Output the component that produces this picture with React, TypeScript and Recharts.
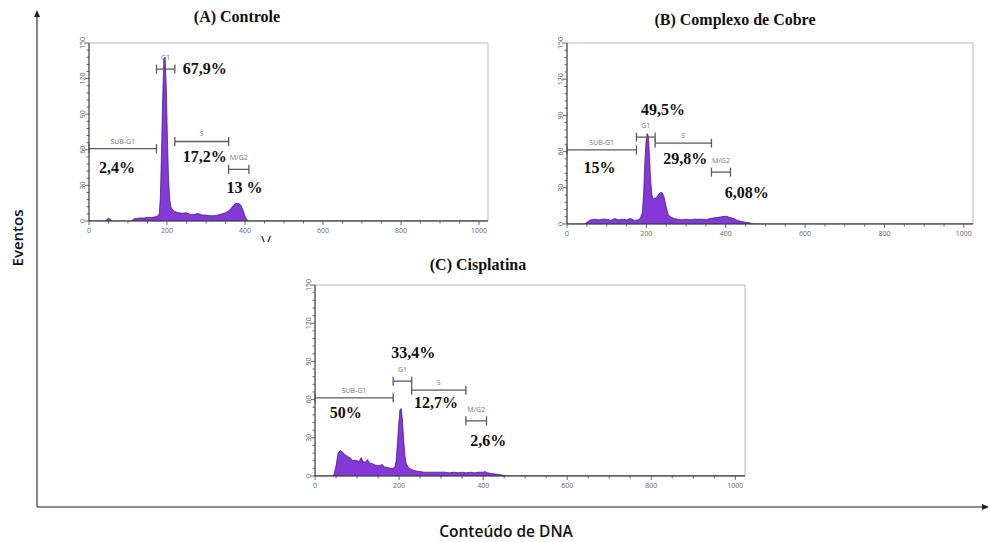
import React from "react";
import { AreaChart, Area, XAxis, YAxis, ReferenceLine, ReferenceDot, ReferenceArea } from "recharts";

// ---------- data ----------
const xTicks = [0, 50, 100, 150, 200, 250, 300, 350, 400, 450, 500, 550, 600, 650, 700, 750, 800, 850, 900, 950, 1000];
const yTicks = [0, 6, 12, 18, 24, 30, 36, 42, 48, 54, 60, 66, 72, 78, 84, 90, 96, 102, 108, 114, 120, 126, 132, 138, 144, 150];

// (A) Controle
const aChannels = [0, 40, 45, 50, 55, 60, 100, 110, 115, 120, 130, 140, 150, 160, 170, 175, 180, 183, 186, 189, 192, 195, 198, 201, 204, 207, 210, 215, 220, 230, 240, 250, 260, 270, 280, 290, 300, 310, 320, 330, 340, 350, 360, 365, 370, 375, 380, 385, 390, 395, 400, 405, 410, 1023];
const aCounts = [0, 0, 1, 2.5, 1, 0, 0, 0, 2, 2, 2.5, 2.5, 3, 3, 3.5, 4, 6, 20, 60, 105, 137, 138, 115, 70, 35, 18, 12, 9, 8, 7, 6.5, 7, 5.5, 5.5, 6.5, 5, 5, 4.5, 4.5, 5, 6, 7, 9, 11, 13, 14.5, 15, 14.5, 13, 9, 4, 1, 0, 0];

// (B) Complexo de Cobre
const bChannels = [0, 40, 45, 50, 60, 70, 80, 90, 100, 110, 120, 130, 140, 150, 160, 170, 180, 185, 190, 193, 196, 199, 202, 205, 208, 211, 214, 217, 220, 225, 230, 235, 240, 245, 250, 255, 260, 270, 280, 290, 300, 310, 320, 330, 340, 350, 360, 370, 380, 390, 400, 410, 420, 430, 440, 450, 460, 465, 470, 1023];
const bCounts = [0, 0, 0, 1.5, 3.5, 4, 3.5, 4, 4, 3, 4.5, 3.5, 4, 3.5, 4.5, 3, 3.5, 5, 10, 25, 50, 68, 75, 73, 55, 35, 24, 21, 21, 22, 24, 26, 26, 22, 14, 8, 6, 4.5, 4, 3.5, 4, 3.5, 4, 4, 4, 3.5, 4.5, 5, 5.5, 6, 6.5, 5.5, 4.5, 3, 2, 1.5, 1, 0.5, 0, 0];

// (C) Cisplatina
const cChannels = [0, 40, 45, 50, 55, 60, 65, 70, 75, 80, 85, 90, 95, 100, 105, 110, 115, 120, 125, 130, 135, 140, 145, 150, 155, 160, 165, 170, 175, 180, 185, 190, 193, 196, 199, 202, 205, 208, 211, 214, 217, 220, 225, 230, 240, 250, 260, 270, 280, 290, 300, 310, 320, 330, 340, 350, 360, 370, 380, 390, 400, 405, 410, 420, 430, 440, 450, 455, 1023];
const cCounts = [0, 0, 1, 8, 18, 20, 19, 17, 16, 15, 14, 12, 12.5, 12, 11.5, 14.5, 11, 11, 13, 10, 10, 9, 8.5, 8, 8.5, 9, 7, 7, 6.5, 6, 6, 7, 12, 25, 40, 52, 53, 44, 28, 16, 10, 8, 6, 5, 4, 3.5, 3, 3, 3, 3, 3, 3, 2.5, 3, 2.5, 3, 2.5, 3, 2.5, 3, 3, 3.5, 2.5, 2, 1.5, 1, 0.5, 0, 0];

// gates: name, start, end, level
const gateNames = ["SUB-G1", "G1", "S", "M/G2"];
const aGateStart = [0, 173, 220, 358];
const aGateEnd = [173, 220, 358, 410];
const aGateLevel = [61, 128, 67, 43.5];
const bGateStart = [0, 175, 222, 364];
const bGateEnd = [175, 222, 364, 412];
const bGateLevel = [61.4, 72, 67, 43];
const cGateStart = [0, 186, 230, 359];
const cGateEnd = [186, 230, 359, 408];
const cGateLevel = [61.4, 74.5, 67.4, 43.3];

// percentages (order SUB-G1, G1, S, M/G2) and their anchor points
const aPercents = ["2,4%", "67,9%", "17,2%", "13 %"];
const aPctX = [72, 297, 297, 399];
const aPctY = [45.7, 129, 54.8, 28.6];
const bPercents = ["15%", "49,5%", "29,8%", "6,08%"];
const bPctX = [82, 242, 298, 453];
const bPctY = [47.6, 95.4, 55, 26.3];
const cPercents = ["50%", "33,4%", "12,7%", "2,6%"];
const cPctX = [73, 234, 288, 412];
const cPctY = [50.4, 97.6, 58.2, 28];

const titles = ["(A) Controle", "(B) Complexo de Cobre", "(C) Cisplatina"];

// ---------- styles ----------
const FILL = "#8438D8";
const EDGE = "#3a1370";
const GATE = "#5a5a5a";
const SERIF = "'Liberation Serif', 'Times New Roman', serif";
const SANS = "'Open Sans', 'Noto Sans', sans-serif";

const XTick = (props: any) => {
  const { x, y, payload } = props;
  const major = payload.value % 200 === 0;
  return (
    <g>
      <line x1={x} x2={x} y1={y} y2={y + (major ? 4 : 2.5)} stroke="#444" strokeWidth={0.8} />
      {major && (
        <text x={x} y={y + 12} textAnchor="middle" fontSize={7} fill="#666" fontFamily={SANS}>
          {payload.value}
        </text>
      )}
    </g>
  );
};

const YTick = (props: any) => {
  const { x, y, payload } = props;
  const major = payload.value % 30 === 0;
  return (
    <g>
      <line x1={x} x2={x - (major ? 4 : 2.5)} y1={y} y2={y} stroke="#444" strokeWidth={0.8} />
      {major && (
        <text transform={`translate(${x - 4},${y}) rotate(-90)`} textAnchor="middle" fontSize={7} fill="#666" fontFamily={SANS}>
          {payload.value}
        </text>
      )}
    </g>
  );
};

type PanelProps = {
  left: number; top: number; w: number; h: number;
  channels: number[]; counts: number[];
  gStart: number[]; gEnd: number[]; gLevel: number[];
  pcts: string[]; pctX: number[]; pctY: number[];
};

const Panel = (p: PanelProps) => {
  const yw = 30, mt = 10, mr = 12, xh = 22;
  const W = p.w + yw + mr;
  const H = p.h + mt + xh;
  const data = p.channels.map((c, i) => ({ x: c, y: p.counts[i] }));
  return (
    <div style={{ position: "absolute", left: p.left - yw, top: p.top - mt }}>
      <AreaChart width={W} height={H} data={data} margin={{ top: mt, right: mr, bottom: 0, left: 0 }}>
        <ReferenceArea x1={0} x2={1023} y1={0} y2={150} fill="none" stroke="#b8b8b8" strokeWidth={1} ifOverflow="visible" />
        <XAxis dataKey="x" type="number" domain={[0, 1023]} ticks={xTicks} interval={0} height={xh}
          tick={<XTick />} tickLine={false} tickSize={0} tickMargin={0} axisLine={{ stroke: "#333", strokeWidth: 1.2 }} allowDataOverflow />
        <YAxis type="number" domain={[0, 150]} ticks={yTicks} interval={0} width={yw}
          tick={<YTick />} tickLine={false} tickSize={0} tickMargin={0} axisLine={{ stroke: "#333", strokeWidth: 1 }} allowDataOverflow />
        <Area dataKey="y" type="linear" fill={FILL} fillOpacity={1} stroke={EDGE} strokeWidth={0.7}
          isAnimationActive={false} dot={false} activeDot={false} />
        {gateNames.map((n, i) => (
          <ReferenceLine key={"gl" + i} segment={[{ x: p.gStart[i], y: p.gLevel[i] }, { x: p.gEnd[i], y: p.gLevel[i] }]}
            stroke={GATE} strokeWidth={1.3} ifOverflow="visible" />
        ))}
        {gateNames.map((n, i) => (
          <ReferenceDot key={"gs" + i} x={p.gStart[i]} y={p.gLevel[i]} ifOverflow="visible"
            shape={(s: any) => <line x1={s.cx} x2={s.cx} y1={s.cy - 4.5} y2={s.cy + 4.5} stroke={GATE} strokeWidth={1.3} />} />
        ))}
        {gateNames.map((n, i) => (
          <ReferenceDot key={"ge" + i} x={p.gEnd[i]} y={p.gLevel[i]} ifOverflow="visible"
            shape={(s: any) => <line x1={s.cx} x2={s.cx} y1={s.cy - 4.5} y2={s.cy + 4.5} stroke={GATE} strokeWidth={1.3} />} />
        ))}
        {gateNames.map((n, i) => (
          <ReferenceDot key={"gn" + i} x={(p.gStart[i] + p.gEnd[i]) / 2} y={p.gLevel[i]} ifOverflow="visible"
            shape={(s: any) => (
              <text x={s.cx} y={s.cy - (n === "G1" || n === "M/G2" ? 9 : 5)} textAnchor="middle" fontSize={7} fill="#777" fontFamily={SANS}>
                {n}
              </text>
            )} />
        ))}
        {p.pcts.map((t, i) => (
          <ReferenceDot key={"pc" + i} x={p.pctX[i]} y={p.pctY[i]} ifOverflow="visible"
            shape={(s: any) => (
              <text x={s.cx} y={s.cy + 6} textAnchor="middle" fontSize={16} fontWeight="bold" fill="#111" fontFamily={SERIF}>
                {t}
              </text>
            )} />
        ))}
      </AreaChart>
    </div>
  );
}

export default function App() {
  return (
    <div style={{ position: "absolute", left: 0, top: 0, width: 988, height: 542, background: "#fff", overflow: "hidden" }}>
      <svg width={988} height={542} style={{ position: "absolute", left: 0, top: 0 }}>
        <line x1={37} y1={16} x2={37} y2={507} stroke="#666" strokeWidth={1.6} />
        <polygon points="37,10 34,17 40,17" fill="#222" />
        <line x1={37} y1={507} x2={982} y2={507} stroke="#666" strokeWidth={1.6} />
        <polygon points="989,507 982,504 982,510" fill="#222" />
        <text transform="translate(23,238) rotate(-90)" textAnchor="middle" fontSize={15} fontWeight={600} fill="#111" fontFamily={SANS}>
          Eventos
        </text>
        <text x={506} y={537} textAnchor="middle" fontSize={15.5} fontWeight={600} fill="#111" fontFamily={SANS}>
          Conteúdo de DNA
        </text>
        <text x={237} y={22} textAnchor="middle" fontSize={16} fontWeight="bold" fill="#111" fontFamily={SERIF}>
          {titles[0]}
        </text>
        <text x={735} y={25} textAnchor="middle" fontSize={16} fontWeight="bold" fill="#111" fontFamily={SERIF}>
          {titles[1]}
        </text>
        <text x={478} y={270} textAnchor="middle" fontSize={16} fontWeight="bold" fill="#111" fontFamily={SERIF}>
          {titles[2]}
        </text>
        <text x={266} y={242} textAnchor="middle" fontSize={9} fontWeight="bold" fill="#222" fontFamily={SANS}>
          {"\\ /"}
        </text>
      </svg>
      <Panel left={89} top={43} w={399} h={178} channels={aChannels} counts={aCounts}
        gStart={aGateStart} gEnd={aGateEnd} gLevel={aGateLevel} pcts={aPercents} pctX={aPctX} pctY={aPctY} />
      <Panel left={567} top={43} w={406} h={181} channels={bChannels} counts={bCounts}
        gStart={bGateStart} gEnd={bGateEnd} gLevel={bGateLevel} pcts={bPercents} pctX={bPctX} pctY={bPctY} />
      <Panel left={315} top={285} w={430} h={191} channels={cChannels} counts={cCounts}
        gStart={cGateStart} gEnd={cGateEnd} gLevel={cGateLevel} pcts={cPercents} pctX={cPctX} pctY={cPctY} />
    </div>
  );
}
